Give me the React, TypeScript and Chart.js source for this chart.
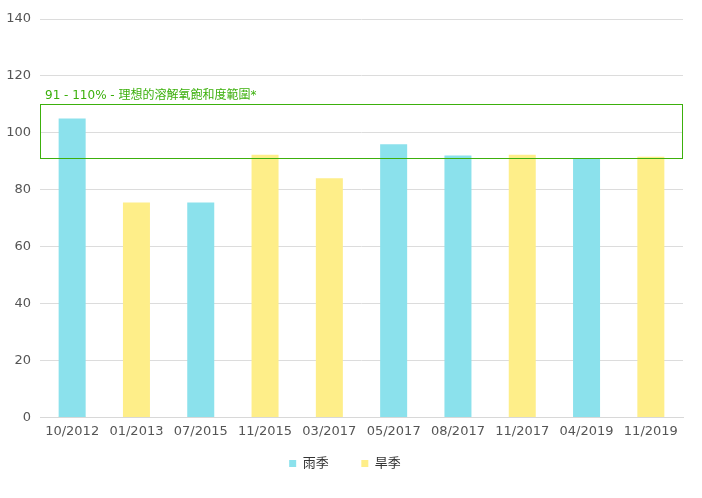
import React from "react";
import { Chart, ChartConfiguration, Plugin, registerables } from "chart.js";

Chart.register(...registerables);

const labels = [
  "10/2012",
  "01/2013",
  "07/2015",
  "11/2015",
  "03/2017",
  "05/2017",
  "08/2017",
  "11/2017",
  "04/2019",
  "11/2019",
];
const rainySeason = [105, null, 75.5, null, null, 96, 92, null, 91, null];
const drySeason = [0.3, 75.5, null, 92.3, 84, null, null, 92.3, null, 91.6];
const idealRange = [91, 110];
const idealLabel = "91 - 110% - 理想的溶解氧飽和度範圍*";

const FONT = "'DejaVu Sans', 'Noto Sans CJK TC', sans-serif";

const rangeBox: Plugin<"bar"> = {
  id: "rangeBox",
  afterDatasetsDraw(chart) {
    const { ctx, chartArea, scales } = chart;
    const yTop = scales.y.getPixelForValue(idealRange[1]);
    const yBottom = scales.y.getPixelForValue(idealRange[0]);
    ctx.save();
    ctx.strokeStyle = "#3cb00c";
    ctx.lineWidth = 1;
    ctx.strokeRect(
      chartArea.left + 0.5,
      Math.round(yTop) + 0.5,
      chartArea.right - chartArea.left - 1,
      Math.round(yBottom - yTop)
    );
    ctx.fillStyle = "#3cb00c";
    ctx.font = `12px ${FONT}`;
    ctx.textBaseline = "alphabetic";
    ctx.textAlign = "left";
    ctx.fillText(idealLabel, chartArea.left + 5, yTop - 5);
    ctx.restore();
  },
};

const App: React.FC = () => {
  const canvasRef = React.useRef<HTMLCanvasElement | null>(null);
  const chartRef = React.useRef<Chart<"bar"> | null>(null);

  React.useEffect(() => {
    const ctx = canvasRef.current;
    if (!ctx) return;

    chartRef.current?.destroy();

    const config: ChartConfiguration<"bar"> = {
      type: "bar",
      data: {
        labels,
        datasets: [
          {
            label: "雨季",
            data: rainySeason as number[],
            backgroundColor: "#8be1ec",
            categoryPercentage: 0.8,
            barPercentage: 0.525,
          },
          {
            label: "旱季",
            data: drySeason as number[],
            backgroundColor: "#feee89",
            categoryPercentage: 0.8,
            barPercentage: 0.525,
          },
        ],
      },
      options: {
        animation: false,
        responsive: true,
        maintainAspectRatio: false,
        layout: { padding: { top: 19, right: 19, left: 7, bottom: 18 } },
        plugins: {
          legend: {
            position: "bottom",
            labels: {
              color: "#333",
              boxWidth: 7,
              boxHeight: 7,
              padding: 12,
              font: { family: FONT, size: 13 },
              // extra gap after the first item, as in the reference
              generateLabels: (chart) =>
                Chart.defaults.plugins.legend.labels
                  .generateLabels(chart)
                  .map((item, i) =>
                    i === 0 ? { ...item, text: item.text + "     " } : item
                  ),
            },
          },
          tooltip: { enabled: false },
        },
        scales: {
          x: {
            stacked: true,
            grid: { display: false, tickLength: 0 },
            border: { color: "#d8d8d8" },
            ticks: {
              color: "#555",
              padding: 6,
              font: { family: FONT, size: 13 },
              maxRotation: 0,
            },
          },
          y: {
            stacked: false,
            min: 0,
            max: 140,
            grid: { color: "#dcdcdc", drawTicks: false },
            border: { display: false },
            ticks: {
              stepSize: 20,
              color: "#555",
              padding: 9,
              font: { family: FONT, size: 13 },
            },
            afterFit: (scale) => {
              scale.width = 33;
            },
          },
        },
      },
      plugins: [rangeBox],
    };

    chartRef.current = new Chart(ctx, config);

    return () => {
      chartRef.current?.destroy();
    };
  }, []);

  return (
    <div style={{ position: "absolute", left: 0, top: 0, width: 702, height: 498 }}>
      <canvas ref={canvasRef} />
    </div>
  );
};

export default App;
